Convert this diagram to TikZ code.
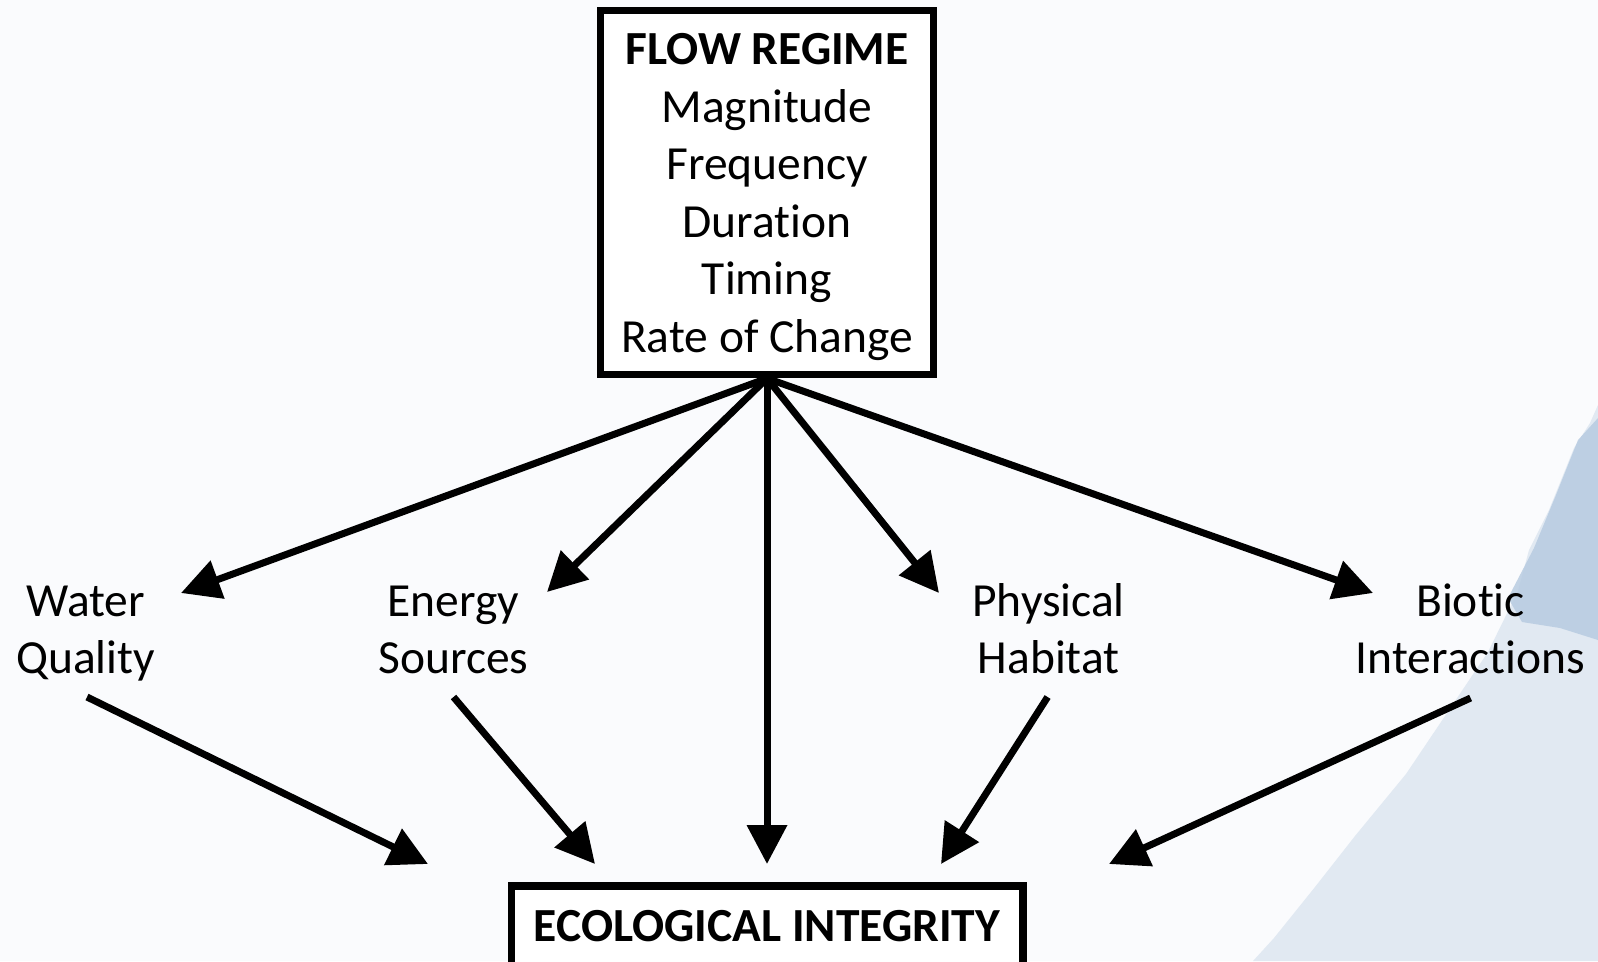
\documentclass[tikz,border=0pt]{standalone}
\usepackage{fontspec}
\setmainfont{Carlito}[Ligatures={NoCommon}]
\usetikzlibrary{arrows.meta,calc}
\definecolor{bg}{RGB}{250,251,253}
\definecolor{wash}{RGB}{225,233,242}
\definecolor{washdark}{RGB}{180,201,224}
\begin{document}
\begin{tikzpicture}[x=1pt,y=-1pt,
  box/.style={draw, line width=7.5pt, fill=white, inner sep=0pt},
  lbl/.style={align=center, inner sep=0pt, outer sep=0pt, font=\fontsize{47.5}{57}\selectfont},
  arr/.style={line width=7pt, -{Triangle[length=39pt,width=39pt]}},
]
\useasboundingbox (0,0) rectangle (1598,961);
\clip (0,0) rectangle (1598,961);
\fill[bg] (0,0) rectangle (1598,961);
% watercolour wash on the right
\fill[wash] (1598,405) -- (1590,423) -- (1574,448) -- (1549,510) -- (1529,550) -- (1518,591)
  -- (1488,652) -- (1447,713) -- (1406,774) -- (1355,836) -- (1315,887) -- (1274,938)
  -- (1253,961) -- (1598,961) -- cycle;
\fill[washdark, opacity=0.8] (1598,418) -- (1578,440) -- (1556,495) -- (1534,548) -- (1508,598)
  -- (1522,622) -- (1560,628) -- (1598,640) -- cycle;
% boxes
\node[box, minimum width=333pt, minimum height=364pt, align=center,
      font=\fontsize{47.5}{57.5}\selectfont] (flow) at (767,192.6)
  {\rule{0pt}{40pt}\textbf{FLOW REGIME}\\Magnitude\\Frequency\\Duration\\Timing\\Rate of Change};
\node[box, minimum width=511.5pt, minimum height=80pt,
      font=\fontsize{47.5}{57}\selectfont\bfseries] (eco) at (767,926) {ECOLOGICAL INTEGRITY};
% labels
\node[lbl] (wq) at (85.6,633.5) {\rule{0pt}{35pt}Water\\Quality\rule[-12pt]{0pt}{0pt}};
\node[lbl] (es) at (453.5,633.5) {\rule{0pt}{35pt}Energy\\Sources\rule[-12pt]{0pt}{0pt}};
\node[lbl] (ph) at (1048.6,633.5) {\rule{0pt}{35pt}Physical\\Habitat\rule[-12pt]{0pt}{0pt}};
\node[lbl] (bi) at (1470.6,633.5) {\rule{0pt}{35pt}Biotic\\Interactions\rule[-12pt]{0pt}{0pt}};
% arrows from flow regime
\draw[arr] (flow.south) -- ($(wq.north)+(95.4,11.5)$);
\draw[arr] (flow.south) -- ($(es.north)+(93.5,10.5)$);
\draw[arr] (flow.south) -- ($(eco.north)+(0,-18.25)$);
\draw[arr] (flow.south) -- ($(ph.north)+(-109.6,11.5)$);
\draw[arr] (flow.south) -- ($(bi.north)+(-97.6,11.5)$);
% arrows to ecological integrity
\draw[arr] ($(wq.south)+(1.4,11.5)$) -- ($(eco.north west)+(-79.5,-18.25)$);
\draw[arr] ($(es.south)+(0,11.5)$) -- ($(eco.north west)+(87.5,-18.25)$);
\draw[arr] ($(ph.south)+(-1,11.5)$) -- ($(eco.north east)+(-85.5,-18.25)$);
\draw[arr] ($(bi.south)+(0,12.5)$) -- ($(eco.north east)+(82.5,-18.25)$);
\end{tikzpicture}
\end{document}
